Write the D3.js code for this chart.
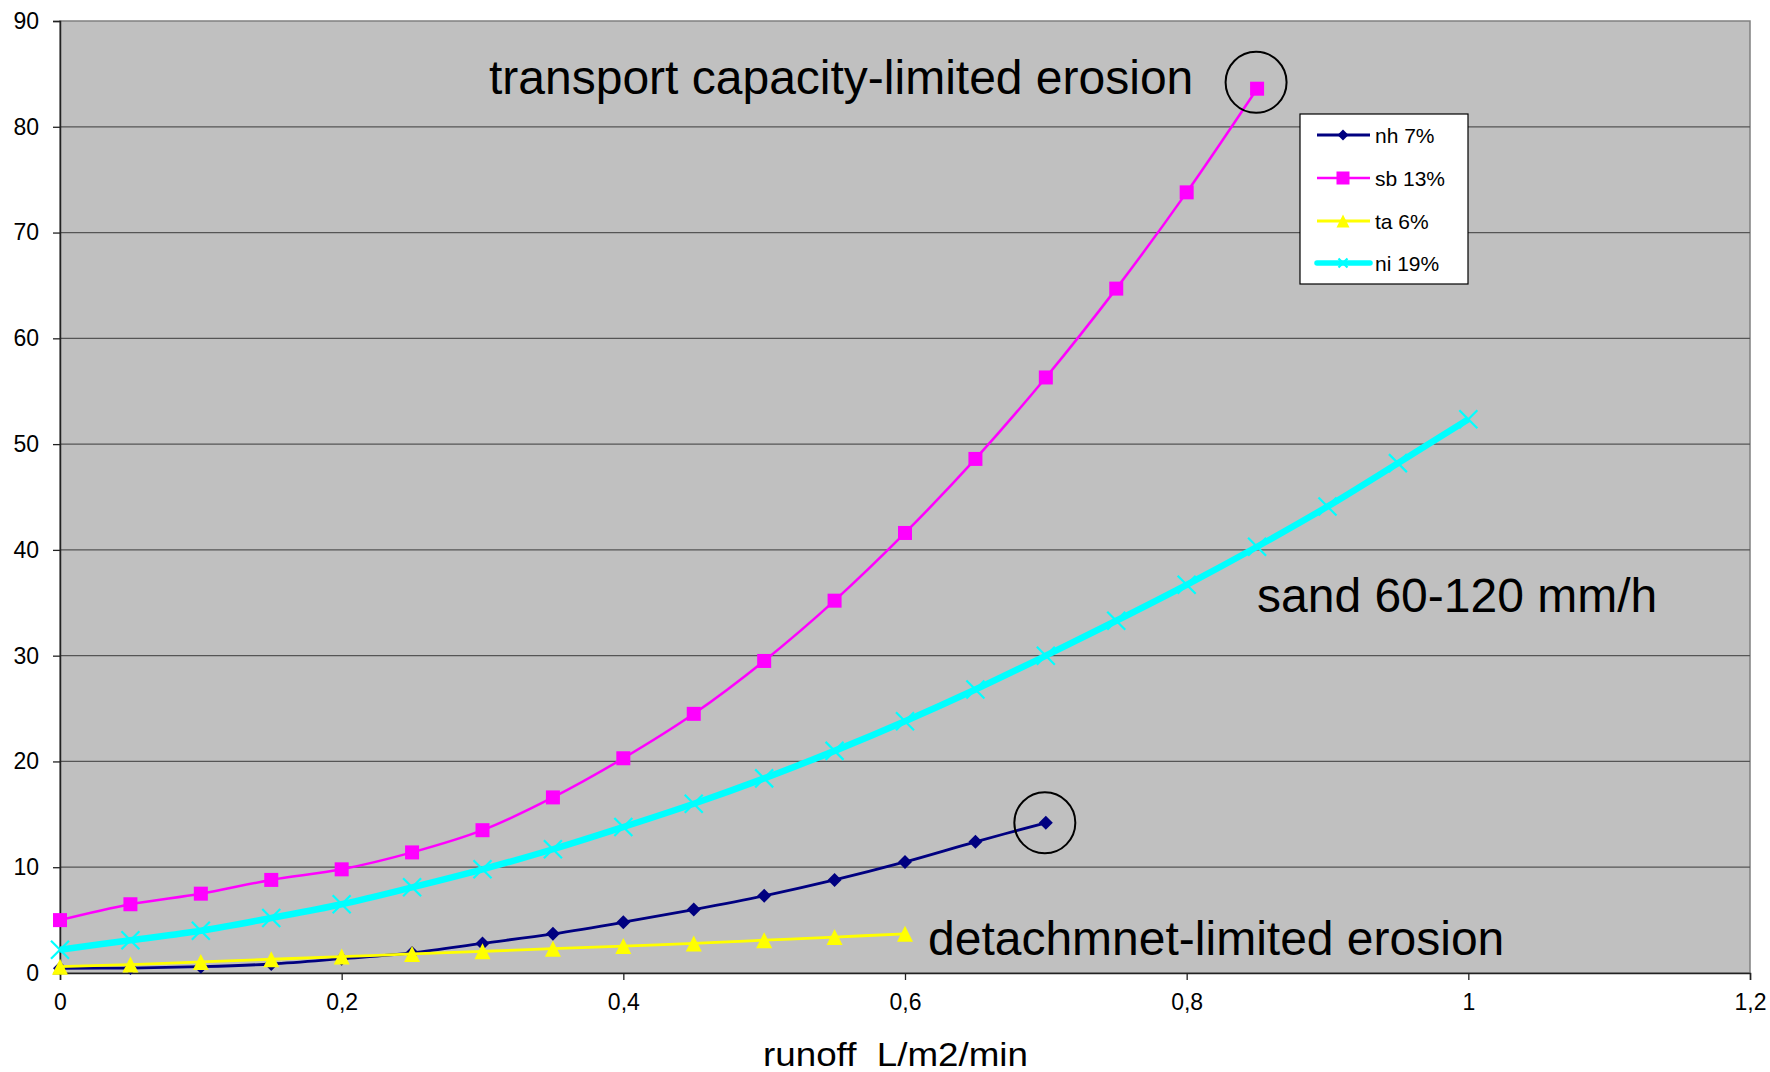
<!DOCTYPE html>
<html>
<head>
<meta charset="utf-8">
<script src="https://cdn.jsdelivr.net/npm/d3@7"></script>
<style>
  html, body { margin: 0; padding: 0; background: #ffffff; }
  svg { display: block; font-family: "Liberation Sans", Arial, sans-serif; }
</style>
</head>
<body>
<svg id="chart" width="1770" height="1072"></svg>
<script>
// ---- data ----
const seriesNames = ["nh 7%", "sb 13%", "ta 6%", "ni 19%"];
const nhX = [0,0.05,0.1,0.15,0.2,0.25,0.3,0.35,0.4,0.45,0.5,0.55,0.6,0.65,0.7];
const nhY = [0.45,0.47,0.6,0.85,1.35,1.9,2.8,3.7,4.8,6.0,7.3,8.8,10.5,12.4,14.2];
const sbX = [0,0.05,0.1,0.15,0.2,0.25,0.3,0.35,0.4,0.45,0.5,0.55,0.6,0.65,0.7,0.75,0.8,0.85];
const sbY = [5.0,6.5,7.5,8.8,9.8,11.4,13.5,16.6,20.3,24.5,29.5,35.2,41.6,48.6,56.3,64.7,73.8,83.6];
const taX = [0,0.05,0.1,0.15,0.2,0.25,0.3,0.35,0.4,0.45,0.5,0.55,0.6];
const taY = [0.6,0.8,1.05,1.3,1.55,1.8,2.05,2.3,2.55,2.8,3.1,3.4,3.7];
const niX = [0,0.05,0.1,0.15,0.2,0.25,0.3,0.35,0.4,0.45,0.5,0.55,0.6,0.65,0.7,0.75,0.8,0.85,0.9,0.95,1.0];
const niY = [2.2,3.1,4.0,5.2,6.5,8.1,9.8,11.7,13.8,16.0,18.4,21.0,23.8,26.8,30.0,33.3,36.7,40.3,44.1,48.2,52.35];
const xTickValues = [0,0.2,0.4,0.6,0.8,1.0,1.2];
const xTickLabels = ["0","0,2","0,4","0,6","0,8","1","1,2"];
const yTickValues = [0,10,20,30,40,50,60,70,80,90];
const yTickLabels = ["0","10","20","30","40","50","60","70","80","90"];
const xTitle = "runoff\u00a0\u00a0L/m2/min";
const annotations = [
  {text: "transport capacity-limited erosion", x: 489, y: 94},
  {text: "sand 60-120 mm/h", x: 1257, y: 612},
  {text: "detachmnet-limited erosion", x: 928, y: 955}
];
const circledPoints = [[0.85, 84.2], [0.7, 14.2]];

// ---- layout ----
const svg = d3.select("#chart");
const L = 60, R = 1750, T = 21, B = 973;
const x = d3.scaleLinear().domain([0, 1.2]).range([L, R]);
const y = d3.scaleLinear().domain([0, 90]).range([B, T]);

// plot background
svg.append("rect").attr("x", L).attr("y", T).attr("width", R - L).attr("height", B - T)
  .attr("fill", "#c0c0c0").attr("stroke", "#808080").attr("stroke-width", 1.5);

// gridlines
svg.append("g").selectAll("line").data(yTickValues.filter(v => v > 0 && v < 90)).join("line")
  .attr("x1", L).attr("x2", R).attr("y1", d => y(d)).attr("y2", d => y(d))
  .attr("stroke", "#555555").attr("stroke-width", 1.3);

// axes
const yAxis = d3.axisLeft(y).tickValues(yTickValues).tickSize(7).tickPadding(14)
  .tickFormat((d, i) => yTickLabels[i]);
const gy = svg.append("g").attr("transform", `translate(${L},0)`).call(yAxis);
gy.select(".domain").attr("stroke", "#222").attr("stroke-width", 1.5);
gy.selectAll(".tick line").attr("stroke", "#222").attr("stroke-width", 1.3);
gy.selectAll(".tick text").attr("font-size", 23).attr("fill", "#000")
  .attr("font-family", "Liberation Sans, Arial, sans-serif");

const xAxis = d3.axisBottom(x).tickValues(xTickValues).tickSize(7).tickPadding(14)
  .tickFormat((d, i) => xTickLabels[i]);
const gx = svg.append("g").attr("transform", `translate(0,${B})`).call(xAxis);
gx.select(".domain").attr("stroke", "#222").attr("stroke-width", 1.5);
gx.selectAll(".tick line").attr("stroke", "#222").attr("stroke-width", 1.3);
gx.selectAll(".tick text").attr("font-size", 23).attr("fill", "#000")
  .attr("font-family", "Liberation Sans, Arial, sans-serif");

// axis title
svg.append("text").attr("x", 763).attr("y", 1066).attr("font-size", 33)
  .attr("textLength", 265).attr("lengthAdjust", "spacingAndGlyphs")
  .attr("fill", "#000").text(xTitle);

// series
const line = d3.line().x(d => x(d[0])).y(d => y(d[1])).curve(d3.curveCatmullRom.alpha(0.5));
const zip = (xs, ys) => xs.map((v, i) => [v, ys[i]]);

const series = [
  {name: seriesNames[0], pts: zip(nhX, nhY), color: "#000080", width: 2.8, marker: "diamond", size: 14},
  {name: seriesNames[1], pts: zip(sbX, sbY), color: "#ff00ff", width: 2.5, marker: "square", size: 14},
  {name: seriesNames[2], pts: zip(taX, taY), color: "#ffff00", width: 2.8, marker: "triangle", size: 16},
  {name: seriesNames[3], pts: zip(niX, niY), color: "#00ffff", width: 6.5, marker: "x", size: 18}
];

function drawMarker(g, type, cx, cy, s, color) {
  const h = s / 2;
  if (type === "square") {
    g.append("rect").attr("x", cx - h).attr("y", cy - h).attr("width", s).attr("height", s).attr("fill", color);
  } else if (type === "diamond") {
    g.append("path").attr("d", `M${cx},${cy - h}L${cx + h},${cy}L${cx},${cy + h}L${cx - h},${cy}Z`).attr("fill", color);
  } else if (type === "triangle") {
    g.append("path").attr("d", `M${cx},${cy - h}L${cx + h},${cy + h}L${cx - h},${cy + h}Z`).attr("fill", color);
  } else if (type === "x") {
    g.append("path").attr("d", `M${cx - h},${cy - h}L${cx + h},${cy + h}M${cx - h},${cy + h}L${cx + h},${cy - h}`)
      .attr("stroke", color).attr("stroke-width", 2.2).attr("fill", "none");
  }
}

series.forEach(s => {
  const g = svg.append("g");
  g.append("path").datum(s.pts).attr("d", line).attr("fill", "none")
    .attr("stroke", s.color).attr("stroke-width", s.width).attr("stroke-linejoin", "round");
  s.pts.forEach(p => drawMarker(g, s.marker, x(p[0]), y(p[1]), s.size, s.color));
});

// circles around annotated points
svg.append("g").selectAll("circle").data(circledPoints).join("circle")
  .attr("cx", d => x(d[0]) - 1).attr("cy", d => y(d[1])).attr("r", 30.5)
  .attr("fill", "none").attr("stroke", "#000").attr("stroke-width", 2);

// annotation texts
svg.append("g").selectAll("text").data(annotations).join("text")
  .attr("x", d => d.x).attr("y", d => d.y).attr("font-size", 48).attr("fill", "#000")
  .text(d => d.text);

// legend
const lg = svg.append("g");
lg.append("rect").attr("x", 1300).attr("y", 114).attr("width", 168).attr("height", 170)
  .attr("fill", "#fff").attr("stroke", "#000").attr("stroke-width", 1.2);
const legendRowY = [135, 178, 221, 263];
const legendMarkerSize = [11, 13, 13, 9];
series.forEach((s, i) => {
  const cy = legendRowY[i];
  lg.append("line").attr("x1", 1317).attr("x2", 1370).attr("y1", cy).attr("y2", cy)
    .attr("stroke", s.color).attr("stroke-width", s.width === 6.5 ? 5.5 : s.width)
    .attr("stroke-linecap", s.width === 6.5 ? "round" : "butt");
  drawMarker(lg, s.marker, 1343, cy, legendMarkerSize[i], s.color);
  lg.append("text").attr("x", 1375).attr("y", cy + 7.5).attr("font-size", 21).attr("fill", "#000").text(s.name);
});
</script>
</body>
</html>
